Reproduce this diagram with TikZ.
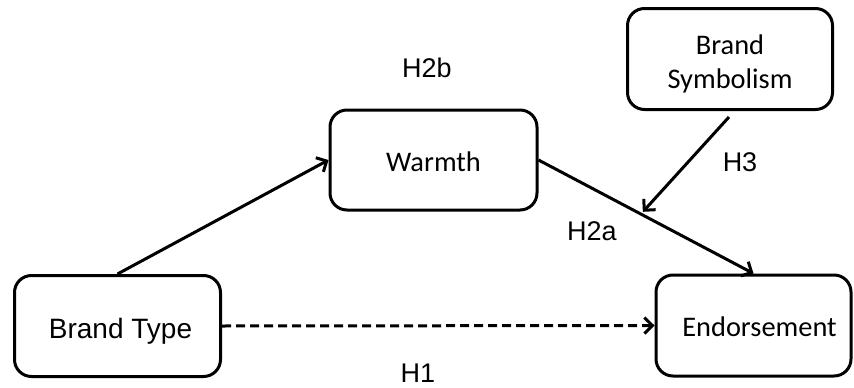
\documentclass[tikz,border=0pt]{standalone}
\usepackage{fontspec}
\setmainfont{Liberation Sans}
\newfontfamily\calib{Carlito}
\usetikzlibrary{arrows.meta,calc}
\tikzset{
  box/.style={draw, line width=3pt, rounded corners=17pt, align=center, inner sep=0pt, text depth=0pt},
  arr/.style={line width=3pt, -{Straight Barb[length=8pt,width=16pt,line width=3pt]}},
  hlab/.style={font=\fontsize{27}{32}\selectfont, anchor=base, inner sep=0pt},
  cal/.style={font=\calib\fontsize{28.4}{34.4}\selectfont},
}
\begin{document}
\begin{tikzpicture}[x=1pt,y=-1pt]
\useasboundingbox (0,0) rectangle (854,388);
\node[box, minimum width=206pt, minimum height=101pt, text height=24.6pt, font=\fontsize{28}{32}\selectfont] (bt) at (117.5,326) {\hspace*{6pt}Brand Type};
\node[box, cal, minimum width=195pt, minimum height=101pt, text height=22.4pt] (en) at (753.5,325.5) {\hspace*{12pt}Endorsement};
\node[box, cal, minimum width=207pt, minimum height=100pt, text height=23.4pt] (wa) at (433.5,160) {Warmth};
\node[box, cal, minimum width=205pt, minimum height=101pt, text depth=, text height=] (bs) at (730,59) {\rule{0pt}{29.5pt}Brand\\Symbolism};
\draw[arr] (bt.north) -- (wa.west);
\draw[arr] (wa.east) -- (en.north);
\coordinate (m) at ($(wa.east)!0.476!(en.north)$);
\coordinate (bss) at ($(bs.south)+(-1,6)$);
\draw[arr, shorten >=3pt] (bss) -- (m);
\draw[arr, dash pattern=on 9pt off 5pt] (bt.east) -- (en.west);
\node[hlab] (h2b) at (427,77.5) {H2b};
\node[hlab] (h3) at (740,171.7) {H3};
\node[hlab] (h2a) at (592,240.7) {H2a};
\node[hlab] (h1) at (418,382.7) {H1};
\end{tikzpicture}
\end{document}
